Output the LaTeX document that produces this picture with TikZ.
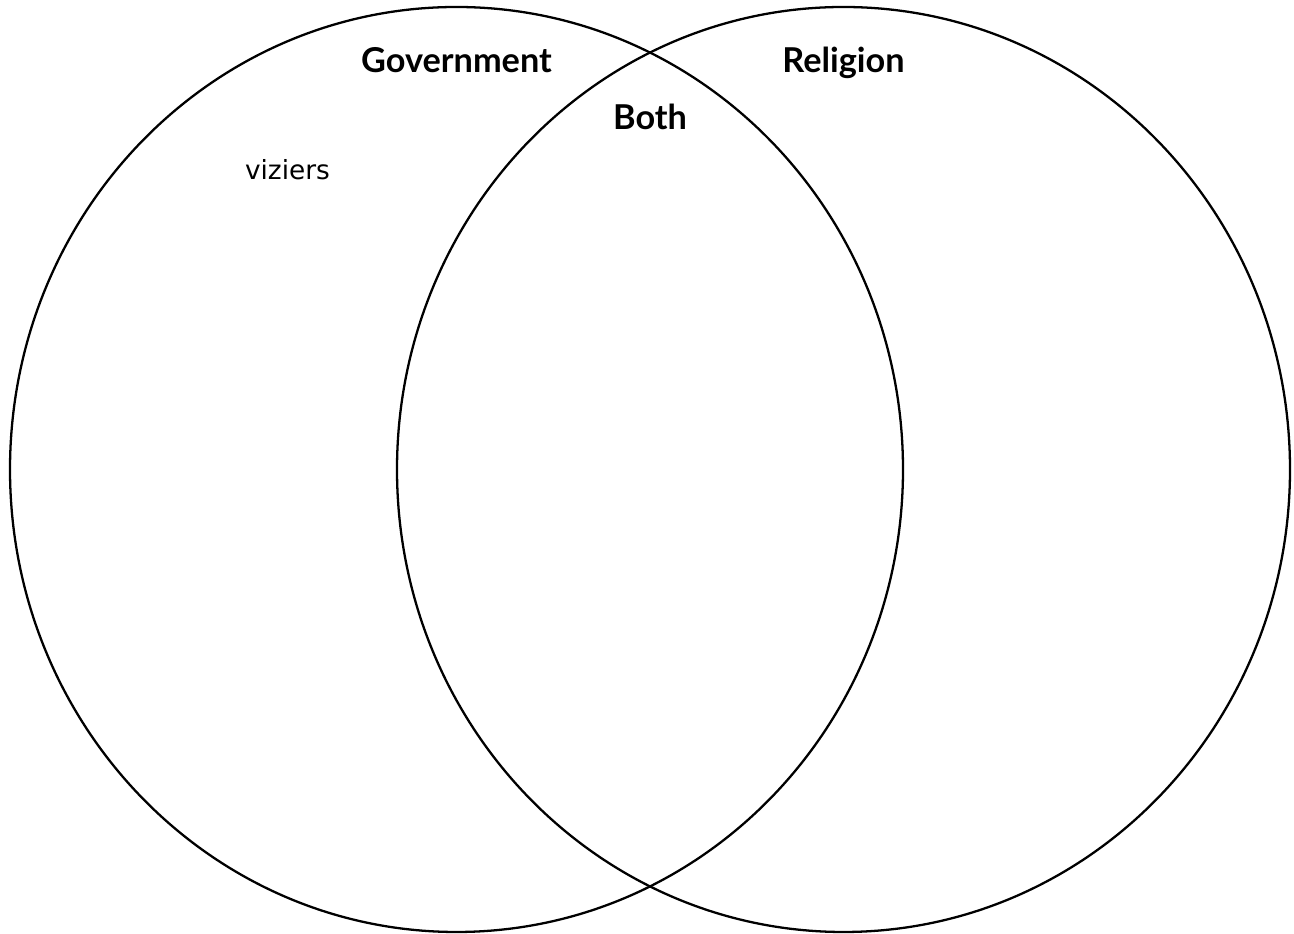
\documentclass[tikz,border=0pt]{standalone}
\usepackage{fontspec}
\setmainfont{Lato}
\usetikzlibrary{positioning}
\newfontfamily\handfont{DejaVu Sans}

\begin{document}
\begin{tikzpicture}[ring/.style={line width=1.3pt},
  every node/.style={align=center, anchor=base},
  heading/.style={font=\fontsize{19.5}{22}\selectfont\bfseries},
  entry/.style={font=\handfont\fontsize{15}{18}\selectfont}]
  \useasboundingbox (0,0) rectangle (25.88,18.68);
  % the two sets
  \draw[ring] (9.13,9.29) ellipse [x radius=8.93, y radius=9.25];
  \draw[ring] (16.87,9.29) ellipse [x radius=8.93, y radius=9.25];

  \node[heading] (gov) at (9.13,17.22) {Government};
  \node[heading] (rel) at (16.87,17.22) {Religion};
  \node[heading] (both) at (13.0,16.08) {Both};
  \node[entry] (viz) at (5.75,15.08) {viziers};
\end{tikzpicture}
\end{document}
